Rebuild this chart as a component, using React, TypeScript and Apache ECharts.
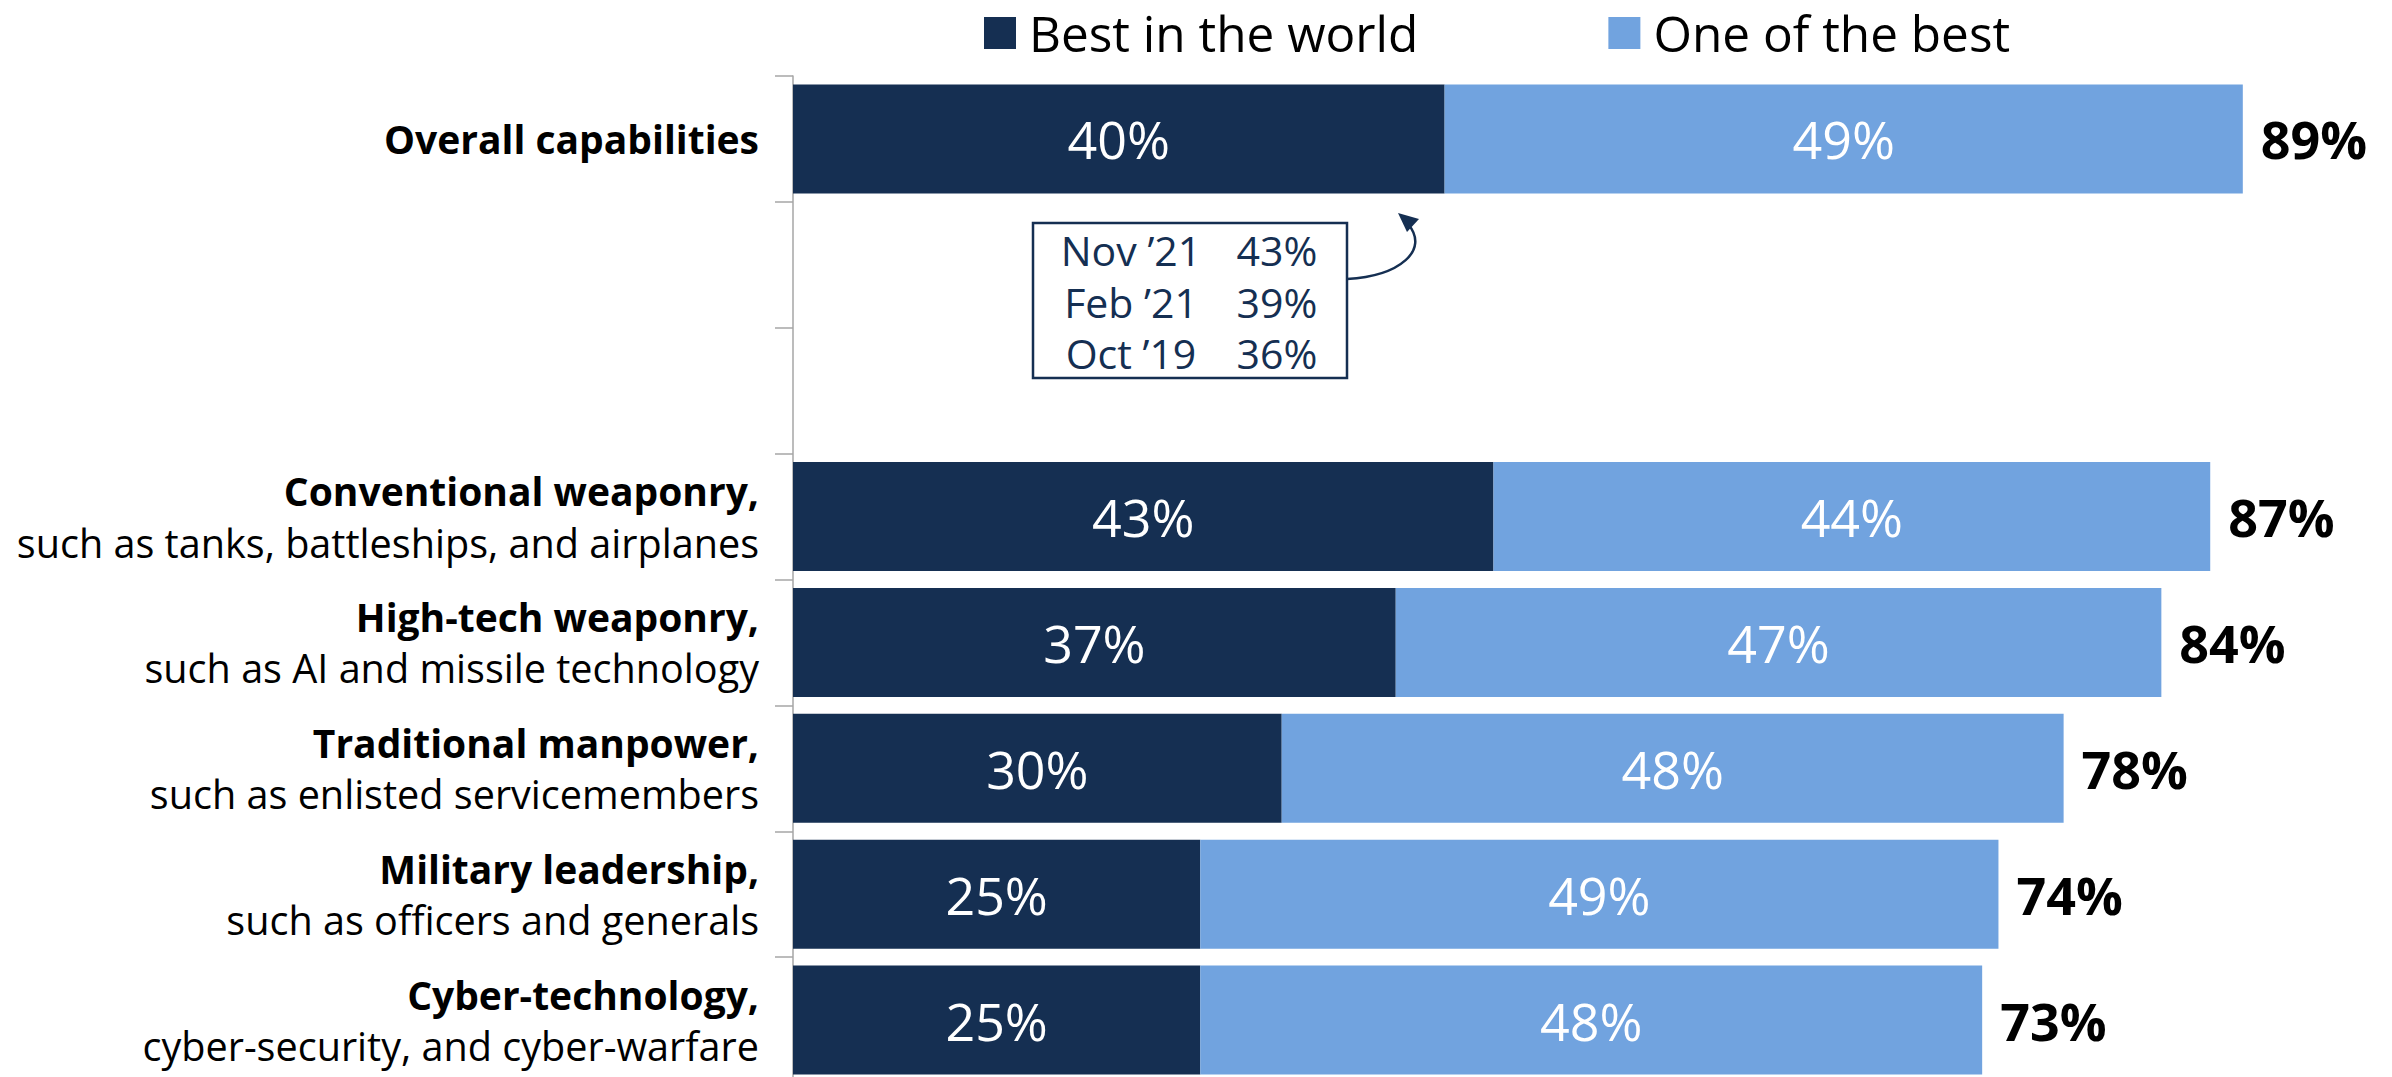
import React, { useEffect, useRef } from "react";
import * as echarts from "echarts";

const categories = [
  "Overall capabilities",
  "",
  "",
  "Conventional weaponry,",
  "High-tech weaponry,",
  "Traditional manpower,",
  "Military leadership,",
  "Cyber-technology,",
];
const subtitles = [
  "",
  "",
  "",
  "such as tanks, battleships, and airplanes",
  "such as AI and missile technology",
  "such as enlisted servicemembers",
  "such as officers and generals",
  "cyber-security, and cyber-warfare",
];
const bestInWorld = [40, null, null, 43, 37, 30, 25, 25];
const oneOfBest = [49, null, null, 44, 47, 48, 49, 48];
const totals = [89, null, null, 87, 84, 78, 74, 73];
const seriesNames = ["Best in the world", "One of the best"];
const trendLabels = ["Nov \u201921", "Feb \u201921", "Oct \u201919"];
const trendValues = [43, 39, 36];

const FONT = "'Open Sans', 'Noto Sans', sans-serif";
const NAVY = "#152F52";
const LIGHT = "#71A3DF";

export default function App() {
  const ref = useRef<HTMLDivElement>(null);
  useEffect(() => {
    if (!ref.current) return;
    const chart = echarts.init(ref.current, null, { renderer: "svg" });
    const trendGraphics: any[] = [];
    trendLabels.forEach((lab, i) => {
      trendGraphics.push({
        type: "text",
        x: 1131,
        y: 250 + i * 51.5,
        style: {
          text: lab,
          fill: NAVY,
          font: `41px ${FONT}`,
          align: "center",
          verticalAlign: "middle",
        },
      });
      trendGraphics.push({
        type: "text",
        x: 1277,
        y: 250 + i * 51.5,
        style: {
          text: trendValues[i] + "%",
          fill: NAVY,
          font: `41px ${FONT}`,
          align: "center",
          verticalAlign: "middle",
        },
      });
    });
    const pct = (p: any) => (p.value == null ? "" : p.value + "%");
    chart.setOption({
      animation: false,
      textStyle: { fontFamily: FONT },
      legend: {
        left: 984,
        top: 8,
        padding: 0,
        itemWidth: 32,
        itemHeight: 32,
        itemGap: 190,
        icon: "rect",
        data: seriesNames,
        selectedMode: false,
        textStyle: {
          fontSize: 49.5,
          color: "#000",
          fontFamily: FONT,
          padding: [0, 0, 0, 8],
          lineHeight: 50,
        },
      },
      grid: { left: 793, top: 76, width: 1629, height: 1007, containLabel: false },
      xAxis: { type: "value", min: 0, max: 100, show: false },
      yAxis: {
        type: "category",
        inverse: true,
        data: categories.map((c, i) => (c === "" ? " ".repeat(i) : c)),
        axisLine: { show: true, lineStyle: { color: "#A6A6A6", width: 1.5 } },
        axisTick: { show: true, length: 18, lineStyle: { color: "#A6A6A6", width: 1.5 } },
        axisLabel: {
          margin: 34,
          formatter: (_v: string, idx: number) => {
            const t = categories[idx];
            if (!t) return "";
            const s = subtitles[idx];
            return s ? `{b|${t}}\n{n|${s}}` : `{b|${t}}`;
          },
          rich: {
            b: { fontSize: 39, fontWeight: "bold", color: "#000", fontFamily: FONT, lineHeight: 52, align: "right" },
            n: { fontSize: 39.6, color: "#000", fontFamily: FONT, lineHeight: 52, align: "right" },
          },
        },
      },
      series: [
        {
          name: seriesNames[0],
          type: "bar",
          stack: "s",
          barWidth: 109,
          data: bestInWorld,
          itemStyle: { color: NAVY },
          label: { show: true, position: "inside", color: "#fff", fontSize: 52, fontFamily: FONT, formatter: pct },
        },
        {
          name: seriesNames[1],
          type: "bar",
          stack: "s",
          barWidth: 109,
          data: oneOfBest,
          itemStyle: { color: LIGHT },
          label: { show: true, position: "inside", color: "#fff", fontSize: 52, fontFamily: FONT, formatter: pct },
        },
        {
          name: "Total",
          type: "bar",
          barWidth: 109,
          barGap: "-100%",
          z: 1,
          silent: true,
          data: totals,
          itemStyle: { color: "rgba(0,0,0,0)" },
          label: {
            show: true,
            position: "right",
            distance: 18,
            color: "#000",
            fontWeight: "bold",
            fontSize: 52,
            fontFamily: FONT,
            formatter: pct,
          },
        },
      ],
      graphic: [
        {
          type: "rect",
          shape: { x: 1033, y: 223, width: 314, height: 155 },
          style: { fill: "#fff", stroke: NAVY, lineWidth: 2.5 },
        },
        ...trendGraphics,
        {
          type: "bezierCurve",
          shape: { x1: 1347, y1: 279, cpx1: 1400, cpy1: 276, cpx2: 1430, cpy2: 250, x2: 1408, y2: 224 },
          style: { stroke: NAVY, lineWidth: 2.5, fill: "none" },
        },
        {
          type: "polygon",
          shape: { points: [[1398, 213], [1419, 219], [1407, 232]] },
          style: { fill: NAVY },
        },
      ],
    });
    return () => chart.dispose();
  }, []);
  return (
    <div style={{ position: "absolute", left: 0, top: 0, width: 2392, height: 1077, overflow: "hidden" }}>
      <div ref={ref} style={{ width: 2460, height: 1100 }} />
    </div>
  );
}
